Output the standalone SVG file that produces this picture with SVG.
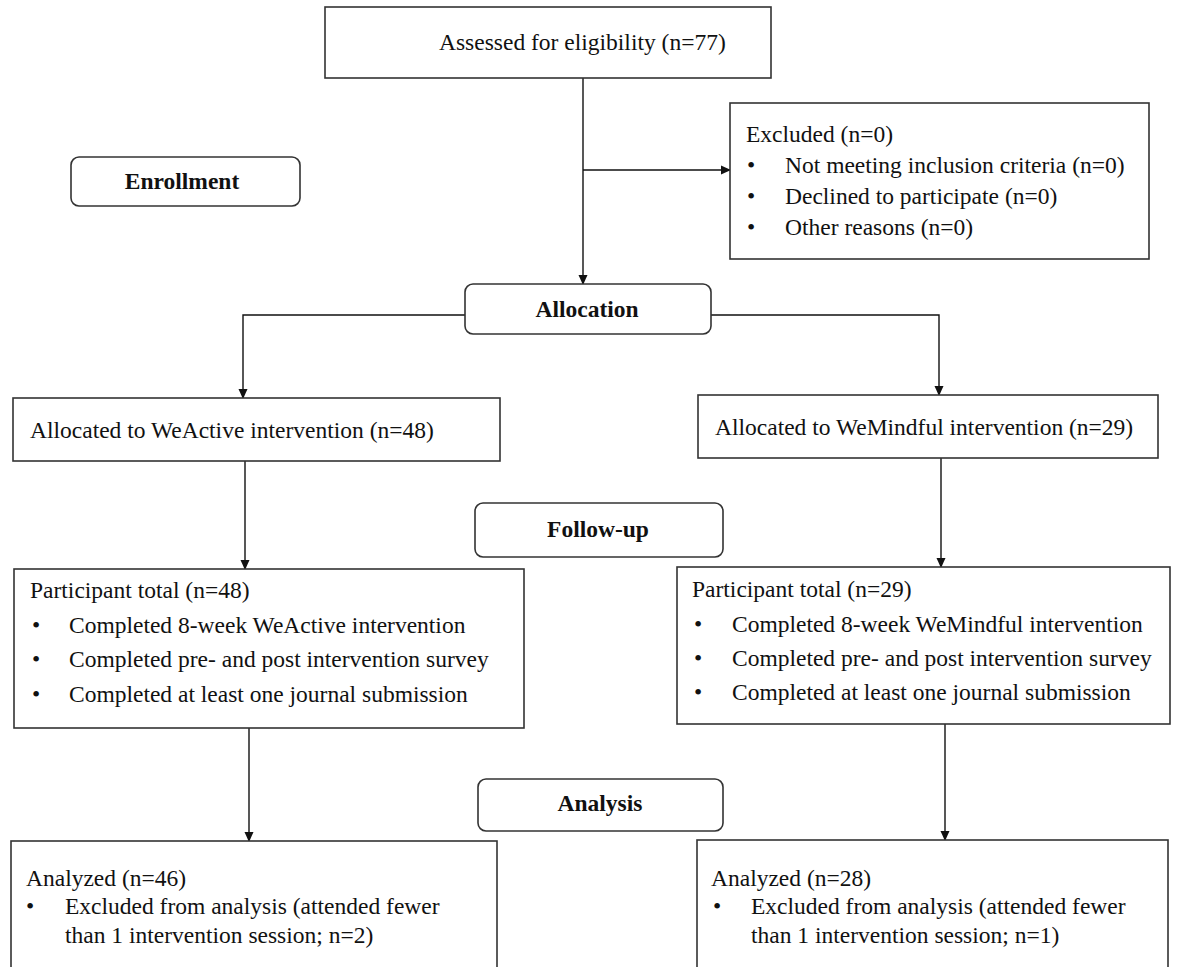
<svg xmlns="http://www.w3.org/2000/svg" width="1178" height="967" viewBox="0 0 1178 967">
<style>
.box{fill:#fff;stroke:#333;stroke-width:1.6}
.t{font-family:"Liberation Serif","Times New Roman",serif;font-size:23.5px;fill:#111}
.b{font-family:"Liberation Serif","Times New Roman",serif;font-size:23.5px;font-weight:bold;fill:#111;text-anchor:middle}
.c{fill:none;stroke:#111;stroke-width:1.4}
</style>
<defs>
<marker id="ah" markerWidth="10" markerHeight="10" refX="9" refY="5" orient="auto" markerUnits="userSpaceOnUse">
<path d="M0,0.5 L10,5 L0,9.5 Z" fill="#111"/>
</marker>
</defs>
<rect width="1178" height="967" fill="#fff"/>
<g id="connectors">
<path class="c" d="M583,78 V284" marker-end="url(#ah)"/>
<path class="c" d="M583,170 H730" marker-end="url(#ah)"/>
<path class="c" d="M465,315 H243 V398" marker-end="url(#ah)"/>
<path class="c" d="M711,315 H939 V395" marker-end="url(#ah)"/>
<path class="c" d="M245,461 V569" marker-end="url(#ah)"/>
<path class="c" d="M941,458 V567" marker-end="url(#ah)"/>
<path class="c" d="M249,728 V841" marker-end="url(#ah)"/>
<path class="c" d="M945,724 V840" marker-end="url(#ah)"/>
</g>
<g id="assessed">
<rect class="box" x="325" y="7" width="446" height="71"/>
<text class="t" x="439" y="50">Assessed for eligibility (n=77)</text>
</g>
<g id="excluded">
<rect class="box" x="730" y="103" width="419" height="156"/>
<text class="t" x="746" y="142">Excluded (n=0)</text>
<text class="t" x="747" y="173">•</text><text class="t" x="785" y="173">Not meeting inclusion criteria (n=0)</text>
<text class="t" x="747" y="204">•</text><text class="t" x="785" y="204">Declined to participate (n=0)</text>
<text class="t" x="747" y="235">•</text><text class="t" x="785" y="235">Other reasons (n=0)</text>
</g>
<g id="enrollment">
<rect class="box" x="71" y="157" width="229" height="49" rx="8"/>
<text class="b" x="182" y="189">Enrollment</text>
</g>
<g id="allocation">
<rect class="box" x="465" y="284" width="246" height="50" rx="8"/>
<text class="b" x="587" y="317">Allocation</text>
</g>
<g id="alloc-weactive">
<rect class="box" x="13" y="398" width="487" height="63"/>
<text class="t" x="30" y="438">Allocated to WeActive intervention (n=48)</text>
</g>
<g id="alloc-wemindful">
<rect class="box" x="698" y="395" width="460" height="63"/>
<text class="t" x="715" y="435">Allocated to WeMindful intervention (n=29)</text>
</g>
<g id="followup">
<rect class="box" x="475" y="503" width="248" height="54" rx="8"/>
<text class="b" x="598" y="537">Follow-up</text>
</g>
<g id="participant-weactive">
<rect class="box" x="14" y="569" width="510" height="159"/>
<text class="t" x="30" y="598">Participant total (n=48)</text>
<text class="t" x="32" y="633">•</text><text class="t" x="69" y="633">Completed 8-week WeActive intervention</text>
<text class="t" x="32" y="667">•</text><text class="t" x="69" y="667">Completed pre- and post intervention survey</text>
<text class="t" x="32" y="702">•</text><text class="t" x="69" y="702">Completed at least one journal submission</text>
</g>
<g id="participant-wemindful">
<rect class="box" x="677" y="567" width="493" height="157"/>
<text class="t" x="692" y="597">Participant total (n=29)</text>
<text class="t" x="694" y="632">•</text><text class="t" x="732" y="632">Completed 8-week WeMindful intervention</text>
<text class="t" x="694" y="666">•</text><text class="t" x="732" y="666">Completed pre- and post intervention survey</text>
<text class="t" x="694" y="700">•</text><text class="t" x="732" y="700">Completed at least one journal submission</text>
</g>
<g id="analysis">
<rect class="box" x="478" y="779" width="245" height="52" rx="8"/>
<text class="b" x="600" y="811">Analysis</text>
</g>
<g id="analyzed-weactive">
<rect class="box" x="11" y="841" width="486" height="140"/>
<text class="t" x="26" y="886">Analyzed (n=46)</text>
<text class="t" x="26" y="914">•</text><text class="t" x="65" y="914">Excluded from analysis (attended fewer</text>
<text class="t" x="65" y="943">than 1 intervention session; n=2)</text>
</g>
<g id="analyzed-wemindful">
<rect class="box" x="697" y="840" width="471" height="140"/>
<text class="t" x="711" y="886">Analyzed (n=28)</text>
<text class="t" x="713" y="914">•</text><text class="t" x="751" y="914">Excluded from analysis (attended fewer</text>
<text class="t" x="751" y="943">than 1 intervention session; n=1)</text>
</g>
</svg>
